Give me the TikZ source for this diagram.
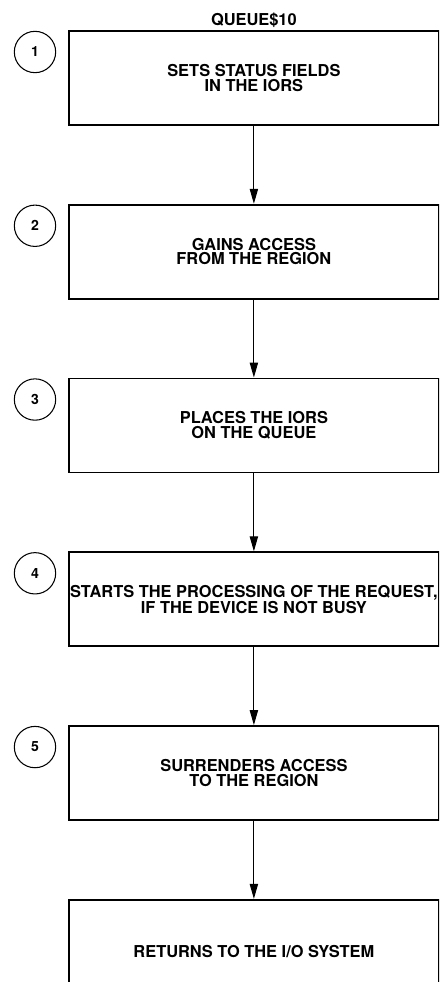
\documentclass[tikz,border=0pt]{standalone}
\usepackage{fontspec}
\setmainfont{TeX Gyre Heros}
\usetikzlibrary{arrows.meta,positioning,calc}

\begin{document}
\begin{tikzpicture}[x=0.03cm,y=-0.03cm,
  font=\fontsize{14}{12.5}\selectfont\bfseries,
  stepbox/.style={draw,line width=1.5pt,minimum width=11.1cm,minimum height=2.82cm,
                  align=center,inner sep=0pt},
  num/.style={draw,circle,line width=0.9pt,minimum size=1.24cm,inner sep=0pt,
              font=\fontsize{12}{12}\selectfont\bfseries},
  arr/.style={-{Triangle[length=4.5mm,width=2.5mm]},line width=0.9pt},
  node distance=2.34cm]
  \useasboundingbox (0,0) rectangle (439,982);
  \clip (0,0) rectangle (439,982);
  % steps of the routine
  \node[stepbox,anchor=north west] (s1) at (68,30) {SETS STATUS FIELDS\\IN THE IORS};
  \node[stepbox,below=of s1] (s2) {GAINS ACCESS\\FROM THE REGION};
  \node[stepbox,below=of s2] (s3) {PLACES THE IORS\\ON THE QUEUE};
  \node[stepbox,below=of s3] (s4) {STARTS THE PROCESSING OF THE REQUEST,\\IF THE DEVICE IS NOT BUSY};
  \node[stepbox,below=of s4] (s5) {SURRENDERS ACCESS\\TO THE REGION};
  \node[stepbox,below=of s5,minimum height=3.1cm] (s6) {RETURNS TO THE I/O SYSTEM};
  \node[above=2pt of s1,inner sep=0pt] (title) {QUEUE\$10};
  % step numbers
  \node[num] (c1) at ($(s1.north west)+(-33,22)$) {1};
  \node[num] (c2) at ($(s2.north west)+(-33,22)$) {2};
  \node[num] (c3) at ($(s3.north west)+(-33,22)$) {3};
  \node[num] (c4) at ($(s4.north west)+(-33,22)$) {4};
  \node[num] (c5) at ($(s5.north west)+(-33,22)$) {5};
  % flow
  \draw[arr] (s1) -- (s2);
  \draw[arr] (s2) -- (s3);
  \draw[arr] (s3) -- (s4);
  \draw[arr] (s4) -- (s5);
  \draw[arr] (s5) -- (s6);
\end{tikzpicture}
\end{document}
